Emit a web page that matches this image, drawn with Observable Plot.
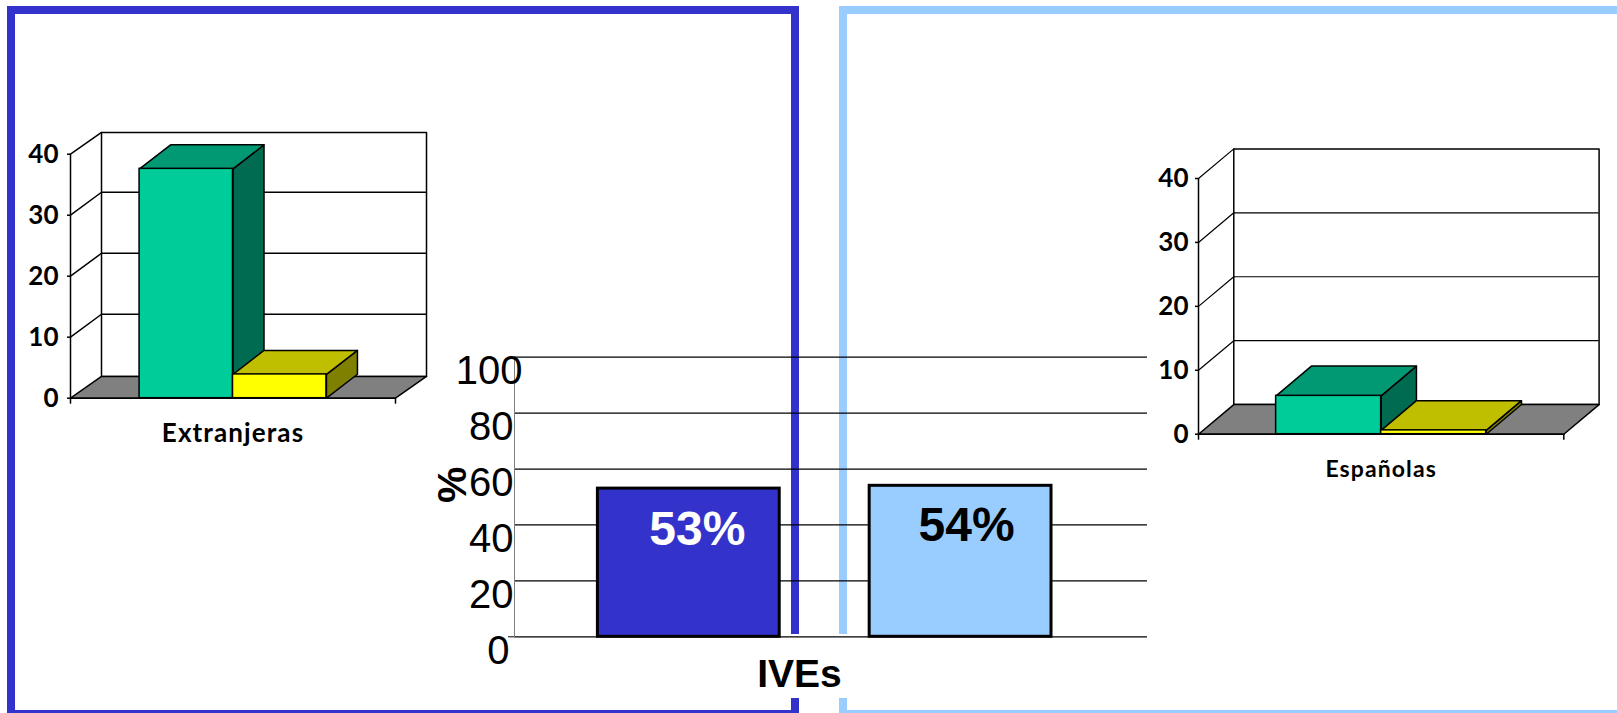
<!DOCTYPE html>
<html><head><meta charset="utf-8">
<script src="https://cdn.jsdelivr.net/npm/d3@7"></script>
<script src="https://cdn.jsdelivr.net/npm/@observablehq/plot@0.6"></script>
<style>
html,body{margin:0;padding:0;background:#fff;overflow:hidden}
#stage{position:relative;width:1617px;height:713px;overflow:hidden}
#stage svg{position:absolute;left:0;top:0}
.frame{position:absolute;box-sizing:border-box}
.side-label{letter-spacing:1.1px}
</style></head><body><div id="stage"></div>
<script>
// ---- data ----
const ivesCategories = ["Extranjeras", "Españolas"];
const ivesValues = [53, 54];
const ivesTicks = [0, 20, 40, 60, 80, 100];
const extranjerasValues = [37.6, 3.9];
const espanolasValues = [6.0, 0.6];
const smallTicks = [0, 10, 20, 30, 40];

const GREEN = {front:"#00CC99", top:"#009973", side:"#006B50"};
const YELLOW = {front:"#FFFF00", top:"#BFBF00", side:"#808000"};
const SIDE_FONT = "Lato, 'Open Sans', sans-serif";
const MAIN_FONT = "'Liberation Sans', Arial, sans-serif";
const stage = document.getElementById("stage");

function addFrame(css){
  const d = document.createElement("div");
  d.className = "frame";
  Object.assign(d.style, css);
  stage.appendChild(d);
}
// Slide panels behind the charts
addFrame({left:"6.7px",top:"6px",width:"792px",height:"712px",border:"8px solid #3333CC"});
addFrame({left:"838.5px",top:"6px",width:"900px",height:"712px",border:"8px solid #99CCFF"});
addFrame({left:"786px",top:"634px",width:"65px",height:"64px",background:"#fff"});

function bar3d(chart){
  const {label, values, depthX, depthWallY, depthBarY, gridLift, labelDy, labelFont, tickPadding, gridWidth, xr, yr} = chart;
  const bars = [
    {x1:0.2125, x2:0.5, v:values[0], c:GREEN},
    {x1:0.5, x2:0.7875, v:values[1], c:YELLOW}
  ];
  const line = {stroke:"#000", strokeWidth:1.5, curve:"linear"};
  const poly = (pts, fill, extra) => Plot.line(pts, {x:"x", y:"y", fill, ...line, ...extra});
  const marks = [
    // back wall
    poly([{x:depthX,y:depthWallY},{x:1+depthX,y:depthWallY},{x:1+depthX,y:40+depthWallY},{x:depthX,y:40+depthWallY},{x:depthX,y:depthWallY}], "#fff"),
    Plot.ruleY(smallTicks.slice(1,4), {y:d=>d+depthWallY+gridLift, x1:depthX, x2:1+depthX, stroke:"#000", strokeWidth:gridWidth}),
    // slanted lines on the side wall
    ...smallTicks.slice(1).map(t => poly([{x:0,y:t},{x:depthX,y:t+depthWallY+(t<40?gridLift:0)}], "none", {strokeWidth:gridWidth})),
    // floor
    poly([{x:0,y:0},{x:1,y:0},{x:1+depthX,y:depthWallY},{x:depthX,y:depthWallY},{x:0,y:0}], "#808080"),
    Plot.ruleX([0], {y1:0, y2:40, stroke:"#000", strokeWidth:1.5}),
    Plot.ruleY([0], {x1:0, x2:1, stroke:"#000", strokeWidth:1.5}),
  ];
  for (const b of bars){
    const dx = depthX, dy = depthBarY;
    marks.push(
      poly([{x:b.x2,y:0},{x:b.x2+dx,y:dy},{x:b.x2+dx,y:b.v+dy},{x:b.x2,y:b.v},{x:b.x2,y:0}], b.c.side),
      poly([{x:b.x1,y:b.v},{x:b.x2,y:b.v},{x:b.x2+dx,y:b.v+dy},{x:b.x1+dx,y:b.v+dy},{x:b.x1,y:b.v}], b.c.top),
      Plot.rect([b], {x1:"x1", x2:"x2", y1:0, y2:"v", fill:b.c.front, stroke:"#000", strokeWidth:1.5})
    );
  }
  marks.push(
    Plot.axisY({ticks:smallTicks, tickSize:3, tickPadding, fontSize:26, fontWeight:700, fontFamily:SIDE_FONT, stroke:"#000", strokeWidth:1.5, tickFormat:d=>d, label:null}),
    Plot.axisX({ticks:[0,1], tickSize:6, tickFormat:()=>"", label:null, stroke:"#000", strokeWidth:1.5}),
    Plot.text([label], {x:()=>0.5, frameAnchor:"bottom", dy:labelDy, fontSize:labelFont, fontWeight:700, fontFamily:SIDE_FONT, fill:"#000", className:"side-label"})
  );
  stage.appendChild(Plot.plot({
    width:1617, height:713, marginLeft:xr[0], marginRight:1617-xr[1], marginTop:yr[1], marginBottom:713-yr[0],
    style:{background:"transparent"},
    x:{domain:[0,1], range:xr, axis:null},
    y:{domain:[0,40], range:yr, axis:null},
    marks
  }));
}

bar3d({label:"Extranjeras", values:extranjerasValues, depthX:0.0954, depthWallY:3.56, depthBarY:3.93, gridLift:0.2, labelDy:44, labelFont:26, tickPadding:9, gridWidth:1.5, xr:[70,395], yr:[397.7,153.7]});
bar3d({label:"Españolas", values:espanolasValues, depthX:0.0966, depthWallY:4.63, depthBarY:4.65, gridLift:0, labelDy:43, labelFont:23, tickPadding:7, gridWidth:1.2, xr:[1198,1563.3], yr:[433.7,178]});

// Central chart
const ivesRows = ivesCategories.map((c,i)=>({c, v:ivesValues[i]}));
stage.appendChild(Plot.plot({
  width:1617, height:713, marginLeft:514, marginRight:470, marginTop:356.7, marginBottom:76.7,
  style:{background:"transparent"},
  x:{type:"band", domain:ivesCategories, range:[597.4,1051], paddingInner:0.331, paddingOuter:0, round:false, axis:null},
  y:{domain:[0,100], range:[636.3,356.7], axis:null},
  marks:[
    Plot.ruleY(ivesTicks, {stroke:"#000", strokeWidth:1.2}),
    Plot.frame({anchor:"left", stroke:"#808080", strokeWidth:1}),
    Plot.axisY({ticks:ivesTicks.filter(t=>t>0&&t<100), tickSize:0, tickPadding:1, dy:14, fontSize:40, fontFamily:MAIN_FONT, tickFormat:d=>d, label:null}),
    Plot.axisY({ticks:[100], tickSize:0, tickPadding:1, dx:9, dy:14, fontSize:40, fontFamily:MAIN_FONT, tickFormat:d=>d, label:null}),
    Plot.axisY({ticks:[0], tickSize:0, tickPadding:1, dx:-4, dy:14, fontSize:40, fontFamily:MAIN_FONT, tickFormat:d=>d, label:null}),
    Plot.axisY({ticks:[0], tickSize:6, tickFormat:()=>"", label:null, stroke:"#000"}),
    Plot.barY(ivesRows, {x:"c", y:"v", fill:"c", stroke:"#000", strokeWidth:3}),
    Plot.text(ivesRows.slice(0,1), {x:"c", y:"v", text:d=>d.v+"%", dx:8.5, dy:41, fontSize:48, fontWeight:700, fontFamily:MAIN_FONT, fill:"#fff"}),
    Plot.text(ivesRows.slice(1), {x:"c", y:"v", text:d=>d.v+"%", dx:6, dy:40, fontSize:48, fontWeight:700, fontFamily:MAIN_FONT, fill:"#000"}),
    Plot.text(["%"], {frameAnchor:"left", rotate:-90, dx:-62, dy:6, fontSize:41, fontWeight:700, fontFamily:MAIN_FONT, fill:"#000"}),
    Plot.text(["IVEs"], {frameAnchor:"bottom", dx:-31.5, dy:50, fontSize:39, fontWeight:700, fontFamily:MAIN_FONT, fill:"#000"})
  ],
  color:{domain:ivesCategories, range:["#3333CC","#99CCFF"]}
}));
</script></body></html>
